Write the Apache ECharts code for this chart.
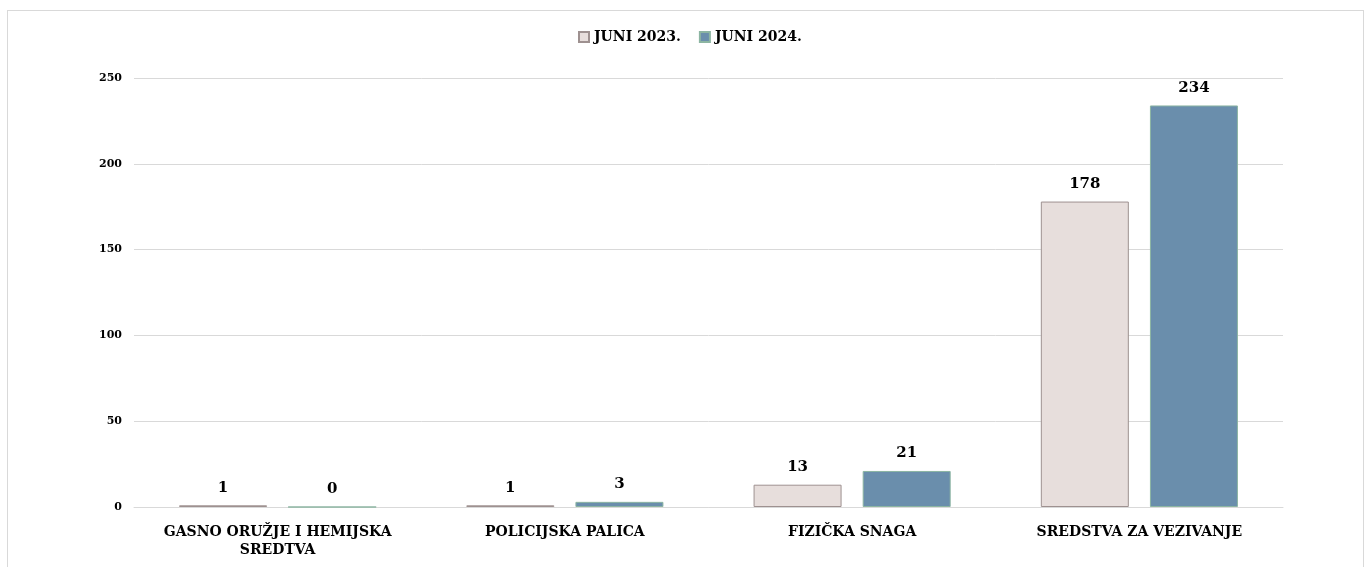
<!DOCTYPE html>
<html>
<head>
<meta charset="utf-8">
<script src="https://cdn.jsdelivr.net/npm/echarts@6/dist/echarts.min.js"></script>
<style>
html,body{margin:0;padding:0;background:#fff;}
#frame{position:absolute;left:7px;top:10px;width:1357px;height:600px;border:1px solid #d9d9d9;box-sizing:border-box;}
#chart{position:absolute;left:0;top:0;width:1370px;height:567px;}
</style>
</head>
<body>
<div id="frame"></div>
<div id="chart"></div>
<script>
const categories = ['GASNO ORUŽJE I HEMIJSKA\nSREDTVA', 'POLICIJSKA PALICA', 'FIZIČKA SNAGA', 'SREDSTVA ZA VEZIVANJE'];
const seriesNames = ['JUNI 2023.', 'JUNI 2024.'];
const values2023 = [1, 1, 13, 178];
const values2024 = [0, 3, 21, 234];

const font = 'DejaVu Serif';
const chart = echarts.init(document.getElementById('chart'));
chart.setOption({
  animation: false,
  legend: {
    top: 25,
    left: 573,
    icon: 'rect',
    itemWidth: 10,
    itemHeight: 10,
    itemGap: 18,
    textStyle: {fontFamily: font, fontWeight: 'bold', fontSize: 14, color: '#000'},
    data: seriesNames
  },
  grid: {left: 134, right: 87, top: 78, bottom: 60},
  xAxis: {
    type: 'category',
    data: categories,
    axisLine: {show: true, lineStyle: {color: '#d9d9d9', width: 1}},
    axisTick: {show: false},
    axisLabel: {fontFamily: font, fontWeight: 'bold', fontSize: 14, color: '#000', margin: 16, lineHeight: 18, interval: 0}
  },
  yAxis: {
    type: 'value',
    min: 0, max: 250, interval: 50,
    axisLine: {show: false},
    axisTick: {show: false},
    splitLine: {lineStyle: {color: '#d9d9d9', width: 1}},
    axisLabel: {fontFamily: font, fontWeight: 'bold', fontSize: 11, color: '#000', margin: 12}
  },
  series: [
    {
      name: seriesNames[0], type: 'bar', data: values2023,
      barWidth: 88, barGap: '24%',
      itemStyle: {color: '#E7DEDC', borderColor: '#9E9190', borderWidth: 1},
      label: {show: true, position: 'top', distance: 10, fontFamily: font, fontWeight: 'bold', fontSize: 15, color: '#000'}
    },
    {
      name: seriesNames[1], type: 'bar', data: values2024,
      barWidth: 88,
      itemStyle: {color: '#6A8EAC', borderColor: '#8CB5A2', borderWidth: 1},
      label: {show: true, position: 'top', distance: 10, fontFamily: font, fontWeight: 'bold', fontSize: 15, color: '#000'}
    }
  ]
});
</script>
</body>
</html>
